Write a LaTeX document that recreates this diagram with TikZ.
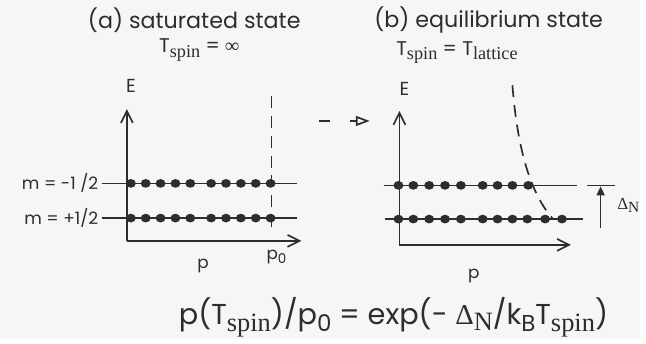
\documentclass[tikz,border=0pt]{standalone}
\usepackage{fontspec}
\setmainfont{Poppins}
\newfontfamily\serifsub{Liberation Serif}
\usepackage{xcolor}
\definecolor{paperwhite}{RGB}{246, 246, 244}
\definecolor{inkgray}{RGB}{45, 45, 45}
\usetikzlibrary{arrows.meta}
\newcommand{\lowsub}[1]{\raisebox{-0.45ex}{\serifsub\scalebox{0.92}{#1}}}
\newcommand{\sanssub}[1]{\raisebox{-0.45ex}{\scalebox{0.8}{#1}}}

\begin{document}
\begin{tikzpicture}[x=0.5pt, y=-0.5pt, >={Straight Barb[length=6pt, width=6pt]}, line width=0.85pt, inkgray]
    \fill[paperwhite] (0,0) rectangle (646,342);
    \node[font=\fontsize{11.2}{13}\selectfont] (titleA) at (196,20) {(a) saturated state};
    \node[font=\fontsize{10}{12}\selectfont] (tempA) at (201,50) {T\lowsub{spin} = {\serifsub\bfseries ∞}};
    \node[font=\fontsize{11.2}{13}\selectfont] (titleB) at (493,20) {(b) equilibrium state};
    \node[font=\fontsize{10}{12}\selectfont] (tempB) at (461,53) {T\lowsub{spin} = T\lowsub{lattice}};

    % panel (a): saturated
    \coordinate (oA) at (128,243);
    \draw[->] (oA) -- (128,110) coordinate (tipEA);
    \draw[->] (oA) -- (304,243) coordinate (tipPA);
    \node[font=\fontsize{9.5}{11}\selectfont] (labEA) at (132,87) {E};
    \draw (103,185) -- (300,185);
    \draw (103,220) -- (300,220);
    \node[anchor=east, inner sep=1pt, font=\fontsize{8.6}{10}\selectfont] (mUp) at (102,185) {m = -1 /2};
    \node[anchor=east, inner sep=1pt, font=\fontsize{8.6}{10}\selectfont] (mDown) at (102,220) {m = +1/2};
    \draw[dash pattern=on 6pt off 4pt] (274,97) -- (274,232);
    \foreach \x in {132,147,162,177,192,213,228,243,258,273} {
        \fill (\x,185) ellipse (5 and 4.4);
        \fill (\x,220) ellipse (5 and 4.4);
    }
    \node[font=\fontsize{8.5}{10}\selectfont] (labPA) at (205,268) {p};
    \node[font=\fontsize{8.5}{10}\selectfont] (labPzero) at (279,259) {p\sanssub{0}};

    % relaxation arrow
    \draw (322,122) -- (333,122);
    \draw[-{Triangle[open, length=7pt, width=5pt]}] (353,122) -- (373,122);

    % panel (b): equilibrium
    \coordinate (oB) at (403,247);
    \draw[->] (oB) -- (403,112) coordinate (tipEB);
    \draw[->] (oB) -- (576,247) coordinate (tipPB);
    \node[font=\fontsize{9.5}{11}\selectfont] (labEB) at (408,90) {E};
    \draw (387,187) -- (582,187);
    \draw (388,221) -- (588,221);
    \foreach \x in {402,417,433,449,465,487,502,517,533}
        \fill (\x,187) ellipse (5 and 4.4);
    \foreach \x in {402,417,433,449,465,487,502,517,532,550,567}
        \fill (\x,221) ellipse (5 and 4.4);
    \draw[dash pattern=on 6pt off 4pt] (517,86) .. controls (522,150) and (535,195) .. (558,221);
    \node[font=\fontsize{8.5}{10}\selectfont] (labPB) at (478,278) {p};

    % level splitting
    \draw (592,187) -- (620,187);
    \draw[-{Triangle[length=4.5pt, width=4pt]}] (606,230) -- (606,188);
    \node[font=\fontsize{8.5}{10}\selectfont\serifsub] (labDelta) at (634,207) {Δ\lowsub{N}};

    % population ratio
    \node[font=\fontsize{14.5}{17}\selectfont] (ratio) at (397,320)
        {p(T\lowsub{spin})/p\sanssub{0} = exp(- {\serifsub Δ\lowsub{N}}/k\sanssub{B}T\lowsub{spin})};
\end{tikzpicture}
\end{document}
